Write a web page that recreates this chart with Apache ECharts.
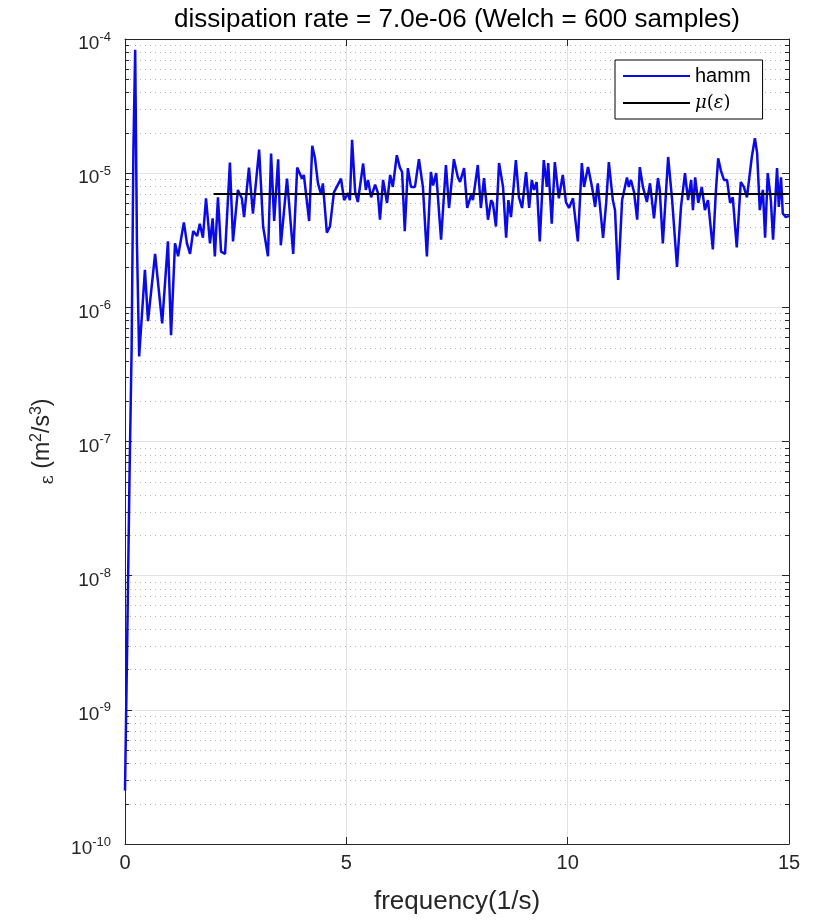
<!DOCTYPE html>
<html>
<head>
<meta charset="utf-8">
<script src="https://cdn.jsdelivr.net/npm/echarts@6/dist/echarts.min.js"></script>
<style>html,body{margin:0;padding:0;background:#fff}#c{width:813px;height:920px}</style>
</head>
<body>
<div id="c"></div>
<script>
// ---------- data ----------
const titleText = 'dissipation rate = 7.0e-06 (Welch = 600 samples)';
const xLabelText = 'frequency(1/s)';
const xTicks = [0, 5, 10, 15];
const yMin = 1e-10, yMax = 1e-4;
const freq = [0.00,0.05,0.10,0.15,0.19,0.23,0.27,0.32,0.45,0.52,0.68,0.84,0.97,1.04,1.13,1.20,1.33,1.40,1.47,1.54,1.63,1.69,1.76,1.83,1.92,1.98,2.03,2.10,2.17,2.26,2.37,2.44,2.55,2.64,2.69,2.80,2.89,3.03,3.12,3.23,3.30,3.37,3.46,3.52,3.66,3.80,3.89,4.00,4.04,4.16,4.23,4.29,4.36,4.43,4.47,4.56,4.63,4.72,4.88,4.95,5.04,5.08,5.13,5.20,5.26,5.38,5.44,5.49,5.56,5.65,5.71,5.76,5.83,5.92,5.99,6.05,6.14,6.21,6.26,6.32,6.39,6.46,6.55,6.64,6.73,6.82,6.91,6.96,7.03,7.14,7.25,7.32,7.43,7.52,7.57,7.66,7.73,7.82,7.86,7.97,8.04,8.11,8.20,8.27,8.31,8.38,8.45,8.54,8.61,8.66,8.72,8.83,8.90,8.97,9.06,9.13,9.19,9.24,9.30,9.37,9.46,9.53,9.56,9.64,9.71,9.80,9.89,9.96,10.03,10.12,10.23,10.32,10.37,10.46,10.55,10.62,10.68,10.80,10.87,10.93,11.02,11.07,11.14,11.23,11.34,11.38,11.43,11.50,11.57,11.63,11.70,11.79,11.86,11.95,12.04,12.08,12.15,12.27,12.36,12.47,12.56,12.65,12.72,12.79,12.83,12.88,12.95,13.03,13.10,13.17,13.28,13.35,13.40,13.46,13.53,13.60,13.67,13.73,13.82,13.91,13.98,14.05,14.16,14.23,14.28,14.34,14.41,14.46,14.52,14.59,14.64,14.73,14.77,14.82,14.86,14.93,15.00];
const hamm = [2.5e-10,3.2e-9,5e-8,5e-7,1.5e-5,8.3e-5,3e-6,4.3e-7,1.9e-6,7.9e-7,2.5e-6,7.6e-7,3.1e-6,6.2e-7,3.0e-6,2.4e-6,4.3e-6,3.0e-6,2.5e-6,3.7e-6,3.4e-6,4.2e-6,3.3e-6,6.5e-6,3.0e-6,4.6e-6,2.4e-6,6.6e-6,2.6e-6,2.5e-6,1.2e-5,3.1e-6,7.5e-6,6.5e-6,4.7e-6,1.1e-5,5.0e-6,1.5e-5,4.0e-6,2.4e-6,1.4e-5,4.4e-6,1.27e-5,2.9e-6,9.1e-6,2.5e-6,1.1e-5,9.1e-6,9.7e-6,4.4e-6,1.6e-5,1.3e-5,8.4e-6,6.9e-6,8.4e-6,3.6e-6,4.0e-6,7.2e-6,9.1e-6,6.3e-6,7.1e-6,6.3e-6,1.77e-5,7.2e-6,6.1e-6,1.18e-5,7.5e-6,8.9e-6,6.6e-6,8.2e-6,7.2e-6,4.5e-6,8.9e-6,6.0e-6,9.7e-6,7.9e-6,1.36e-5,1.1e-5,1.02e-5,3.7e-6,1.09e-5,7.9e-6,7.9e-6,1.27e-5,7.9e-6,2.4e-6,1.02e-5,8.1e-6,1.0e-5,3.2e-6,1.15e-5,5.5e-6,1.27e-5,9.3e-6,8.6e-6,1.09e-5,5.5e-6,6.9e-6,6.3e-6,1.15e-5,5.5e-6,9.2e-6,4.5e-6,6.3e-6,6.0e-6,4.0e-6,1.19e-5,7.9e-6,3.3e-6,6.3e-6,4.7e-6,1.25e-5,6.6e-6,5.5e-6,1.02e-5,5.5e-6,8.9e-6,7.5e-6,8.6e-6,3.1e-6,1.25e-5,7.9e-6,1.19e-5,4.2e-6,1.21e-5,6.5e-6,9.7e-6,6.1e-6,5.5e-6,6.5e-6,3.1e-6,1.19e-5,7.9e-6,1.11e-5,7.9e-6,5.6e-6,8.4e-6,3.3e-6,6.0e-6,1.21e-5,6.3e-6,5.3e-6,1.6e-6,6.3e-6,9.3e-6,7.9e-6,8.9e-6,7.2e-6,4.5e-6,1.11e-5,7.9e-6,6.1e-6,8.4e-6,4.6e-6,9.2e-6,7.5e-6,3.0e-6,1.32e-5,6.3e-6,2.0e-6,5.6e-6,1.0e-5,6.3e-6,8.9e-6,5.3e-6,9.3e-6,6.0e-6,7.9e-6,5.3e-6,6.3e-6,2.7e-6,7.5e-6,1.29e-5,1.05e-5,8.9e-6,8.9e-6,6.0e-6,6.6e-6,2.8e-6,8.6e-6,7.9e-6,6.6e-6,1.32e-5,1.82e-5,1.41e-5,5.3e-6,7.5e-6,3.3e-6,1.0e-5,6.3e-6,3.2e-6,1.09e-5,5.6e-6,9.3e-6,5.0e-6,4.7e-6,4.8e-6];
const meanFreq = [2.0, 15.0];
const meanEps = [7.0e-6, 7.0e-6];

// ---------- chart ----------
const FONT = 'Liberation Sans';
const chart = echarts.init(document.getElementById('c'), null, {renderer: 'canvas'});

const minorVals = [];
for (let e = -10; e < -4; e++) for (let k = 2; k <= 9; k++) minorVals.push(k * Math.pow(10, e));

const yLabelFmt = v => '{b|10}{s|' + Math.round(Math.log10(v)) + '}';
const axisColor = '#262626';

const option = {
  animation: false,
  backgroundColor: '#fff',
  textStyle: {fontFamily: FONT},
  grid: {left: 125, right: 24, top: 39, bottom: 76, containLabel: false, outerBoundsMode: 'none'},
  legend: {
    data: ['hamm', 'μ(ε)'],
    orient: 'vertical',
    left: 615, top: 60,
    padding: [6, 12, 6, 8],
    itemGap: 7,
    itemWidth: 67, itemHeight: 2,
    icon: 'rect',
    borderColor: '#000', borderWidth: 1,
    backgroundColor: '#fff',
    textStyle: {fontFamily: FONT, fontSize: 20, color: '#000', lineHeight: 20,
      rich: {i: {fontFamily: 'DejaVu Serif', fontStyle: 'italic', fontSize: 18, color: '#000'},
             p: {fontFamily: 'DejaVu Serif', fontSize: 18, color: '#000'}}},
    formatter: n => n === 'hamm' ? n : '{i|μ}{p|(}{i|ε}{p|)}'
  },
  xAxis: [{
    type: 'value', min: 0, max: 15, interval: 5, position: 'bottom',
    name: xLabelText, nameLocation: 'middle', nameGap: 45,
    nameTextStyle: {fontFamily: FONT, fontSize: 26, color: '#262626'},
    axisLine: {show: true, onZero: false, lineStyle: {color: axisColor, width: 1}},
    axisTick: {show: true, inside: true, length: 7, lineStyle: {color: axisColor}},
    axisLabel: {fontFamily: FONT, fontSize: 20, color: '#262626', margin: 9},
    splitLine: {show: true, lineStyle: {color: '#e3e3e3', width: 1}}
  }, {
    type: 'value', min: 0, max: 15, interval: 5, position: 'top',
    name: titleText, nameLocation: 'middle', nameGap: 6,
    nameTextStyle: {fontFamily: FONT, fontSize: 26, color: '#000'},
    axisLine: {show: true, onZero: false, lineStyle: {color: axisColor, width: 1}},
    axisTick: {show: true, inside: true, length: 7, lineStyle: {color: axisColor}},
    axisLabel: {show: false}, splitLine: {show: false}
  }],
  yAxis: [{
    type: 'log', logBase: 10, min: yMin, max: yMax, interval: 1, position: 'left',
    name: '{e|ε} (m{s|2}/s{s|3})', nameLocation: 'middle', nameGap: 68, nameRotate: 90,
    nameTextStyle: {fontFamily: FONT, fontSize: 23, color: '#262626',
      rich: {e: {fontFamily: 'DejaVu Serif', fontSize: 18, color: '#262626', verticalAlign: 'bottom'},
             s: {fontFamily: FONT, fontSize: 16, color: '#262626', verticalAlign: 'top', padding: [0, 0, 12, 0]}}},
    axisLine: {show: true, onZero: false, lineStyle: {color: axisColor, width: 1}},
    axisTick: {show: true, inside: true, length: 7, lineStyle: {color: axisColor}},
    axisLabel: {fontFamily: FONT, margin: 14, formatter: yLabelFmt, padding: [6, 0, 0, 0],
      rich: {b: {fontFamily: FONT, fontSize: 19, color: '#262626', verticalAlign: 'bottom', lineHeight: 23},
             s: {fontFamily: FONT, fontSize: 13, color: '#262626', verticalAlign: 'top', lineHeight: 13}}},
    splitLine: {show: true, lineStyle: {color: '#e3e3e3', width: 1}}
  }, {
    type: 'log', logBase: 10, min: yMin, max: yMax, interval: 1, position: 'right',
    axisLine: {show: true, onZero: false, lineStyle: {color: axisColor, width: 1}},
    axisTick: {show: true, inside: true, length: 7, lineStyle: {color: axisColor}},
    axisLabel: {show: false}, splitLine: {show: false}
  }],
  series: [{
    name: 'hamm', type: 'line', showSymbol: false, symbol: 'none', z: 3,
    data: freq.map((f, i) => [f, hamm[i]]),
    lineStyle: {color: '#0a0ae6', width: 2.5}, itemStyle: {color: '#0a0ae6'}
  }, {
    name: 'μ(ε)', type: 'line', showSymbol: false, symbol: 'none', z: 4,
    data: meanFreq.map((f, i) => [f, meanEps[i]]),
    lineStyle: {color: '#000', width: 2}, itemStyle: {color: '#000'}
  }]
};
chart.setOption(option);

// minor grid lines and minor ticks of the log axis, positioned through the axis scale
const x0 = chart.convertToPixel({xAxisIndex: 0}, 0);
const x1 = chart.convertToPixel({xAxisIndex: 0}, 15);
const gfx = [];
minorVals.forEach(v => {
  const py = Math.round(chart.convertToPixel({yAxisIndex: 0}, v)) + 0.5;
  gfx.push({type: 'line', silent: true, z: -1, shape: {x1: x0, y1: py, x2: x1, y2: py}, style: {stroke: '#b4b4b4', lineWidth: 1, lineDash: [1, 4]}});
  gfx.push({type: 'line', silent: true, z: 10, shape: {x1: x0, y1: py, x2: x0 + 4, y2: py}, style: {stroke: axisColor, lineWidth: 1}});
  gfx.push({type: 'line', silent: true, z: 10, shape: {x1: x1 - 4, y1: py, x2: x1, y2: py}, style: {stroke: axisColor, lineWidth: 1}});
});
chart.setOption({graphic: gfx});
</script>
</body>
</html>
